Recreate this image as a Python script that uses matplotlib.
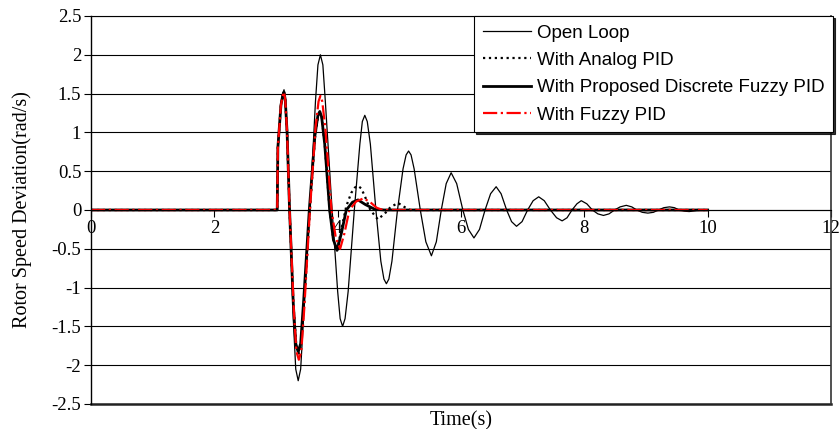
import matplotlib
matplotlib.use('Agg')
import matplotlib.pyplot as plt

# Values (time in s, deviation in rad/s).
t_open = [0, 3.0, 3.02, 3.03, 3.08, 3.11, 3.13, 3.15, 3.18, 3.22, 3.28, 3.32, 3.36, 3.40,
          3.45, 3.55, 3.64, 3.68, 3.72, 3.76, 3.80, 3.91, 4.00, 4.04, 4.08, 4.12, 4.17,
          4.27, 4.36, 4.40, 4.44, 4.48, 4.53, 4.62, 4.70, 4.75, 4.79, 4.83, 4.88,
          4.97, 5.06, 5.11, 5.15, 5.19, 5.24, 5.34, 5.43, 5.52, 5.60, 5.68, 5.76, 5.84,
          5.93, 6.03, 6.12, 6.21, 6.30, 6.39, 6.48, 6.57, 6.65, 6.74, 6.82, 6.90, 6.99,
          7.08, 7.17, 7.26, 7.35, 7.45, 7.55, 7.64, 7.72, 7.80, 7.88, 7.95, 8.04, 8.13,
          8.22, 8.31, 8.40, 8.49, 8.58, 8.68, 8.77, 8.85, 8.94, 9.03, 9.12, 9.20, 9.29,
          9.38, 9.46, 9.54, 9.62, 9.70, 9.80, 9.88, 10.0]
y_open = [0, 0, 0, 0.8, 1.35, 1.5, 1.55, 1.45, 1.0, 0.0, -1.4, -2.05, -2.2, -2.05,
          -1.35, 0.0, 1.4, 1.87, 2.0, 1.87, 1.4, 0.0, -1.05, -1.4, -1.5, -1.4, -1.05,
          0.0, 0.85, 1.14, 1.22, 1.14, 0.85, 0.0, -0.66, -0.89, -0.95, -0.89, -0.66,
          0.0, 0.53, 0.71, 0.76, 0.71, 0.53, 0.0, -0.41, -0.59, -0.41, 0.0, 0.34, 0.48,
          0.34, 0.0, -0.25, -0.36, -0.25, 0.0, 0.21, 0.30, 0.21, 0.0, -0.15, -0.21, -0.15,
          0.0, 0.12, 0.17, 0.12, 0.0, -0.10, -0.14, -0.10, 0.0, 0.08, 0.12, 0.08, 0.0,
          -0.05, -0.07, -0.05, 0.0, 0.04, 0.06, 0.04, 0.0, -0.03, -0.04, -0.03, 0.0, 0.03,
          0.04, 0.03, 0.0, -0.015, -0.02, -0.01, 0.0, 0.0]

t_analog = [0, 3.0, 3.02, 3.03, 3.08, 3.11, 3.13, 3.15, 3.18, 3.22, 3.28, 3.33, 3.37, 3.41,
            3.46, 3.55, 3.63, 3.68, 3.71, 3.74, 3.79, 3.87, 3.93, 3.99, 4.06, 4.14, 4.22,
            4.28, 4.33, 4.38, 4.44, 4.53, 4.65, 4.76, 4.86, 4.98, 5.08, 5.17, 10.0]
y_analog = [0, 0, 0, 0.8, 1.35, 1.48, 1.52, 1.42, 1.0, 0.0, -1.2, -1.75, -1.85, -1.72,
            -1.15, 0.0, 0.92, 1.2, 1.25, 1.2, 0.85, 0.0, -0.38, -0.52, -0.25, 0.05, 0.22,
            0.29, 0.31, 0.28, 0.18, 0.0, -0.12, -0.05, 0.04, 0.09, 0.04, 0.0, 0.0]

t_discrete = [0, 3.0, 3.02, 3.03, 3.08, 3.11, 3.13, 3.15, 3.18, 3.22, 3.28, 3.32, 3.36, 3.40,
              3.45, 3.54, 3.63, 3.68, 3.71, 3.74, 3.79, 3.87, 3.93, 3.99, 4.06, 4.14, 4.24,
              4.33, 4.45, 4.60, 4.75, 10.0]
y_discrete = [0, 0, 0, 0.8, 1.35, 1.48, 1.52, 1.42, 1.0, 0.0, -1.2, -1.72, -1.83, -1.72,
              -1.15, 0.0, 0.95, 1.22, 1.27, 1.2, 0.85, 0.0, -0.38, -0.52, -0.3, 0.0, 0.10,
              0.13, 0.07, 0.01, 0.0, 0.0]

t_fuzzy = [0, 3.0, 3.02, 3.03, 3.08, 3.11, 3.13, 3.15, 3.18, 3.22, 3.29, 3.33, 3.37, 3.41,
           3.46, 3.55, 3.64, 3.69, 3.72, 3.75, 3.80, 3.90, 3.97, 4.04, 4.11, 4.19, 4.30,
           4.42, 4.53, 4.63, 4.73, 10.0]
y_fuzzy = [0, 0, 0, 0.8, 1.35, 1.48, 1.52, 1.42, 1.0, 0.0, -1.3, -1.82, -1.93, -1.82,
           -1.25, 0.0, 1.05, 1.4, 1.47, 1.4, 1.05, 0.0, -0.36, -0.5, -0.3, 0.0, 0.11,
           0.15, 0.1, 0.03, 0.0, 0.0]

x_ticks = [0, 2, 4, 6, 8, 10, 12]
y_ticks = [-2.5, -2, -1.5, -1, -0.5, 0, 0.5, 1, 1.5, 2, 2.5]

fig = plt.figure(figsize=(8.39, 4.29), dpi=100)
ax = fig.add_axes([91/839, 1 - 404/429, 740/839, 388/429])

ax.plot(t_open, y_open, color='black', lw=0.9, solid_joinstyle='round', label='Open Loop')
ax.plot(t_analog, y_analog, color='black', lw=1.6, ls=':', label='With Analog PID')
ax.plot(t_discrete, y_discrete, color='black', lw=2.0, solid_joinstyle='round',
        label='With Proposed Discrete Fuzzy PID')
ax.plot(t_fuzzy, y_fuzzy, color='red', lw=1.6, ls='-.', label='With Fuzzy PID')

ax.set_xlim(0, 12)
ax.set_ylim(-2.5, 2.5)
ax.set_xticks(x_ticks)
ax.set_yticks(y_ticks)
ax.set_yticklabels([('%g' % v) for v in y_ticks])

ax.yaxis.grid(True, color='black', lw=0.8)
ax.set_axisbelow(True)

ax.spines['bottom'].set_position(('data', 0))
ax.spines['bottom'].set_linewidth(0.8)
ax.spines['left'].set_linewidth(1.0)
ax.spines['top'].set_linewidth(0.8)
ax.spines['right'].set_color('#333333')
ax.spines['right'].set_linewidth(1.2)
ax.axhline(-2.5, color='#222222', lw=1.8, clip_on=False)

serif = 'Liberation Serif'
ax.tick_params(axis='x', direction='out', length=5, width=0.8, pad=2)
ax.tick_params(axis='y', direction='out', length=5, width=0.8, pad=2)
for lbl in ax.get_xticklabels() + ax.get_yticklabels():
    lbl.set_fontfamily(serif)
    lbl.set_fontsize(13.5)

ax.set_xlabel('Time(s)', fontfamily=serif, fontsize=14.5)
ax.xaxis.set_label_coords(0.5, -0.018)
ax.set_ylabel('Rotor Speed Deviation(rad/s)', fontfamily=serif, fontsize=14.5)
ax.yaxis.set_label_coords(-0.08, 0.5)

leg = ax.legend(loc='upper right', bbox_to_anchor=(833/839, 1 - 16/429),
                bbox_transform=fig.transFigure, borderaxespad=0,
                prop={'family': 'Liberation Sans', 'size': 13.5},
                handlelength=2.6, handletextpad=0.3, labelspacing=0.55,
                borderpad=0.45, fancybox=False, framealpha=1, edgecolor='black',
                shadow={'ox': 1.2, 'oy': -1.2, 'shade': 1.0, 'alpha': 0.8})
leg.get_frame().set_linewidth(0.8)

fig.savefig('out.png', dpi=100)
